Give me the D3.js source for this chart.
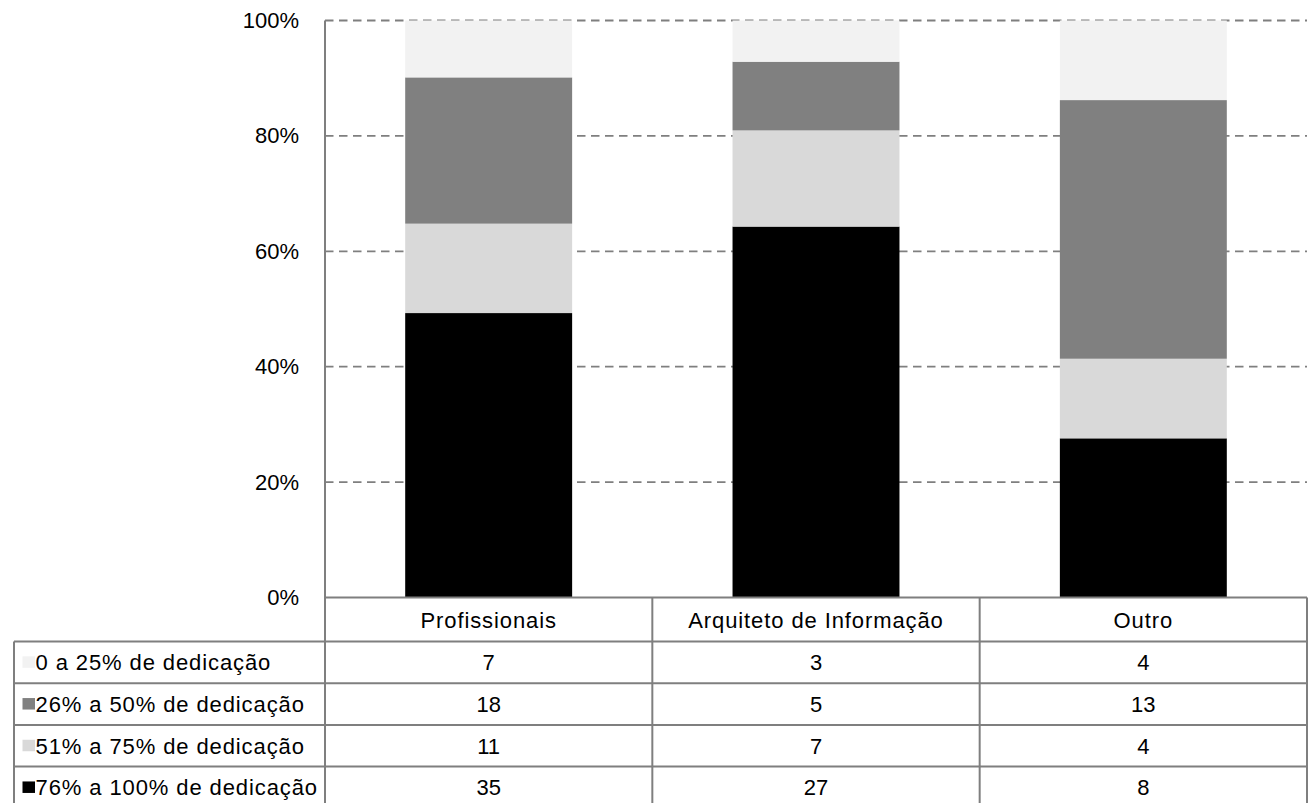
<!DOCTYPE html>
<html>
<head>
<meta charset="utf-8">
<script src="https://cdn.jsdelivr.net/npm/d3@7"></script>
<style>
  html, body { margin: 0; padding: 0; background: #fff; }
  svg { display: block; }
  text { font-family: "Liberation Sans", Arial, sans-serif; fill: #000; }
</style>
</head>
<body>
<svg id="chart" width="1314" height="803"></svg>
<script>
// ---- Data ----
const categories = ["Profissionais", "Arquiteto de Informação", "Outro"];
const seriesNames = ["0 a 25% de dedicação", "26% a 50% de dedicação", "51% a 75% de dedicação", "76% a 100% de dedicação"];
const series0to25 = [7, 3, 4];
const series26to50 = [18, 5, 13];
const series51to75 = [11, 7, 4];
const series76to100 = [35, 27, 8];
const yTicks = [0, 0.2, 0.4, 0.6, 0.8, 1.0];
const seriesColors = ["#f2f2f2", "#808080", "#d9d9d9", "#000000"];

const seriesValues = [series0to25, series26to50, series51to75, series76to100];
// stacking order bottom -> top: 76-100, 51-75, 26-50, 0-25
const stackOrder = [3, 2, 1, 0];

const rows = categories.map((c, i) => {
  const o = { category: c };
  seriesNames.forEach((s, j) => o[s] = seriesValues[j][i]);
  return o;
});

const svg = d3.select("#chart");
const plotLeft = 325, plotRight = 1307, plotTop = 20.5, plotBottom = 597.5;
const gridColor = "#7f7f7f";
const fontSize = 22;
const letterSp = 0.9;

const x = d3.scaleBand().domain(categories).range([plotLeft, plotRight]).paddingInner(0.49).paddingOuter(0.245);
const xCol = d3.scaleBand().domain(categories).range([plotLeft, plotRight]).padding(0);
const y = d3.scaleLinear().domain([0, 1]).range([plotBottom, plotTop]);

// gridlines (dashed)
svg.append("g").selectAll("line").data(yTicks.filter(t => t > 0)).join("line")
  .attr("x1", plotLeft).attr("x2", plotRight)
  .attr("y1", d => y(d)).attr("y2", d => y(d))
  .attr("stroke", gridColor).attr("stroke-width", 1.8)
  .attr("stroke-dasharray", "8.5,5.5");

// stacked (percent) bars
const stack = d3.stack()
  .keys(stackOrder.map(i => seriesNames[i]))
  .offset(d3.stackOffsetExpand);
const stacked = stack(rows);

svg.append("g").selectAll("g").data(stacked).join("g")
  .attr("fill", d => seriesColors[seriesNames.indexOf(d.key)])
  .selectAll("rect").data(d => d).join("rect")
  .attr("x", d => x(d.data.category))
  .attr("width", x.bandwidth())
  .attr("y", d => y(d[1]))
  .attr("height", d => y(d[0]) - y(d[1]));

// y axis labels
svg.append("g").selectAll("text").data(yTicks).join("text")
  .attr("x", 299).attr("y", d => y(d) + 7.5)
  .attr("text-anchor", "end")
  .attr("font-size", fontSize)
  .text(d => d3.format(".0%")(d));

// ---- Data table ----
const headerTop = plotBottom, headerBottom = 641.5;
const rowH = 41.7;
const tableLeft = 14;
const rowTops = seriesNames.map((s, i) => headerBottom + i * rowH);
const tableBottom = headerBottom + seriesNames.length * rowH;

const lines = svg.append("g").attr("stroke", gridColor).attr("stroke-width", 2).attr("fill", "none");
// y axis line (also left border of first category column)
lines.append("line").attr("x1", plotLeft).attr("x2", plotLeft).attr("y1", plotTop).attr("y2", tableBottom);
// x axis / table top
lines.append("line").attr("x1", plotLeft).attr("x2", plotRight).attr("y1", plotBottom).attr("y2", plotBottom);
// vertical column dividers
categories.forEach(c => {
  const xr = xCol(c) + xCol.bandwidth();
  lines.append("line").attr("x1", xr).attr("x2", xr).attr("y1", headerTop).attr("y2", tableBottom);
});
// left border of legend column
lines.append("line").attr("x1", tableLeft).attr("x2", tableLeft).attr("y1", headerBottom).attr("y2", tableBottom);
// horizontal row lines
rowTops.forEach(t => {
  lines.append("line").attr("x1", tableLeft).attr("x2", plotRight).attr("y1", t).attr("y2", t);
});

// header labels
svg.append("g").selectAll("text").data(categories).join("text")
  .attr("x", d => xCol(d) + xCol.bandwidth() / 2)
  .attr("y", (headerTop + headerBottom) / 2 + 8)
  .attr("text-anchor", "middle")
  .attr("font-size", fontSize)
  .attr("letter-spacing", letterSp)
  .text(d => d);

// legend rows with swatches + values
seriesNames.forEach((s, i) => {
  const cy = rowTops[i] + rowH / 2;
  svg.append("rect")
    .attr("x", 22.5).attr("y", cy - 6).attr("width", 12.5).attr("height", 11.5)
    .attr("fill", seriesColors[i]);
  svg.append("text")
    .attr("x", 35.5).attr("y", cy + 8)
    .attr("font-size", fontSize)
    .attr("letter-spacing", letterSp)
    .text(s);
  svg.append("g").selectAll("text").data(categories).join("text")
    .attr("x", c => xCol(c) + xCol.bandwidth() / 2)
    .attr("y", cy + 8)
    .attr("text-anchor", "middle")
    .attr("font-size", fontSize)
    .text((c, k) => seriesValues[i][k]);
});
</script>
</body>
</html>
